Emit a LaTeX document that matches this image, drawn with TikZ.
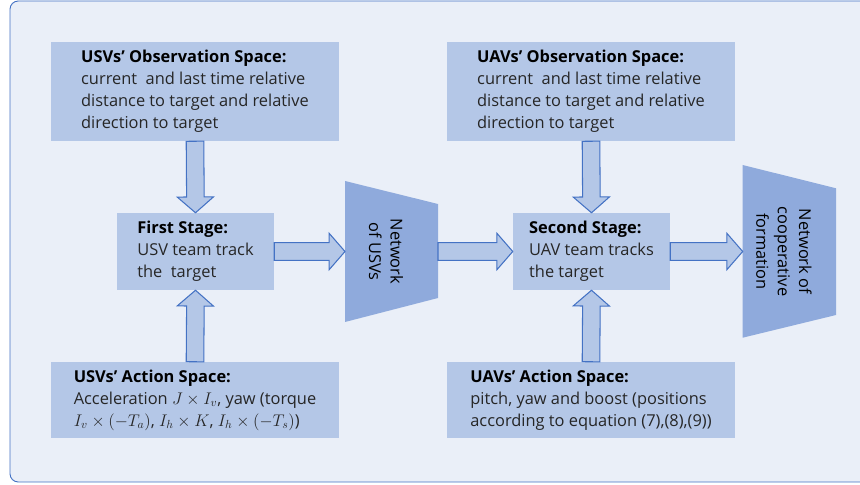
\documentclass[tikz,border=0pt]{standalone}
\usepackage{fontspec}
\setmainfont{Open Sans}
\usepackage{xcolor}
\usepackage{tikz}
\usetikzlibrary{calc}
\definecolor{boxblue}{HTML}{B4C7E7}
\definecolor{netblue}{HTML}{8FAADC}
\definecolor{edgeblue}{HTML}{4472C4}
\definecolor{panel}{HTML}{EAEFF8}
\definecolor{bodytext}{HTML}{262626}
\def\head#1{\textbf{\color{black}#1}}
\newcommand{\fatarrow}[2]{%
  \draw[fat arrow] let \p1=(#1), \p2=(#2),
    \n1={atan2(\y2-\y1,\x2-\x1)}, \n2={veclen(\x2-\x1,\y2-\y1)} in
    [shift={(\p1)}, rotate=\n1]
    (0pt,-7.5pt) -- (\n2-13.5pt,-7.5pt) -- (\n2-13.5pt,-15.5pt) -- (\n2,0pt)
    -- (\n2-13.5pt,15.5pt) -- (\n2-13.5pt,7.5pt) -- (0pt,7.5pt) -- cycle;}

\begin{document}
\begin{tikzpicture}[x=0.03cm,y=-0.03cm]
    \tikzstyle{space}=[fill=boxblue,text=bodytext,align=left,inner sep=0pt,
      minimum width=8.64cm,font=\fontsize{14}{18.7}\selectfont]
    \tikzstyle{stage}=[space,minimum width=4.71cm,minimum height=2.31cm]
    \tikzstyle{net}=[text=black,align=center,rotate=-90,inner sep=0pt,
      font=\fontsize{14}{18.2}\selectfont]
    \tikzstyle{fat arrow}=[draw=edgeblue,fill=boxblue,line width=0.9pt,line join=miter]
    \useasboundingbox (0,0) rectangle (860,485);
    \clip (0,0) rectangle (860,485);
    \draw[edgeblue,fill=panel,line width=0.8pt,rounded corners=7pt] (10,1) rectangle (880,482);

    \node[space,minimum height=2.97cm] (usvobs) at (195,91.5)
      {\head{USVs' Observation Space:}\\current~ and last time relative\\
       distance to target and relative\\direction to target};
    \node[stage] (first) at (195.5,251.5)
      {\head{First Stage:}\\USV team track\\the~ target};
    \node[space,minimum height=2.28cm] (usvact) at (195,400)
      {\head{USVs' Action Space:}\\Acceleration $J\times I_v$, yaw (torque\\
       $I_v\times(-T_a)$, $I_h\times K$, $I_h\times(-T_s)$)};

    \node[space,minimum height=2.97cm] (uavobs) at (591,91.5)
      {\head{UAVs' Observation Space:}\\current~ and last time relative\\
       distance to target and relative\\direction to target};
    \node[stage] (second) at (591.5,251.5)
      {\head{Second Stage:}\\UAV team tracks\\the target};
    \node[space,minimum height=2.28cm] (uavact) at (591,400)
      {\head{UAVs' Action Space:}\\pitch, yaw and boost (positions\\
       according to equation (7),(8),(9))};

    \fill[netblue] (345,181) -- (438,204) -- (438,298) -- (345,322) -- cycle;
    \coordinate (usvnetin) at (345,251.5);
    \coordinate (usvnetout) at (438,251.5);
    \node[net] (usvnet) at (386,251.5) {Network\\of USVs};

    \fill[netblue] (742.7,165) -- (836,188.3) -- (836,315) -- (742.7,337.7) -- cycle;
    \coordinate (formin) at (742.7,251.5);
    \node[net] (formnet) at (784,251.5) {Network of\\cooperative\\formation};

    \fatarrow{usvobs.south}{first.north}
    \fatarrow{usvact.north}{first.south}
    \fatarrow{first.east}{usvnetin}
    \fatarrow{usvnetout}{second.west}
    \fatarrow{uavobs.south}{second.north}
    \fatarrow{uavact.north}{second.south}
    \fatarrow{second.east}{formin}
\end{tikzpicture}
\end{document}
